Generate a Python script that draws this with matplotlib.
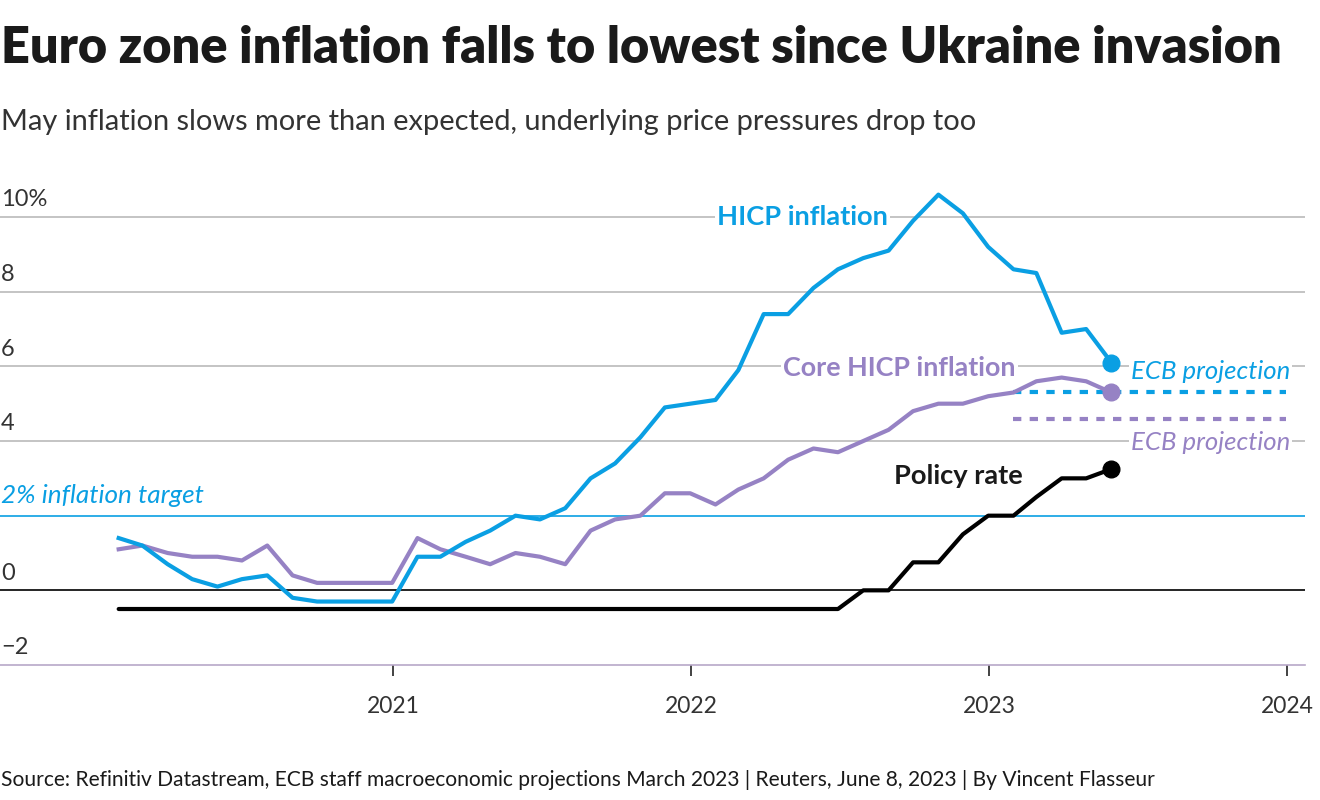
import numpy as np
import pandas as pd
import matplotlib
matplotlib.use("Agg")
import matplotlib.pyplot as plt
import matplotlib.dates as mdates
import matplotlib.transforms as mtransforms

plt.rcParams['font.family'] = ['Lato', 'DejaVu Sans']

# monthly data, Jan 2020 - May 2023 (plotted at month end)
months = pd.date_range('2020-01-31', periods=41, freq='ME')
hicp = [1.4, 1.2, 0.7, 0.3, 0.1, 0.3, 0.4, -0.2, -0.3, -0.3, -0.3, -0.3,
        0.9, 0.9, 1.3, 1.6, 2.0, 1.9, 2.2, 3.0, 3.4, 4.1, 4.9, 5.0,
        5.1, 5.9, 7.4, 7.4, 8.1, 8.6, 8.9, 9.1, 9.9, 10.6, 10.1, 9.2,
        8.6, 8.5, 6.9, 7.0, 6.1]
core = [1.1, 1.2, 1.0, 0.9, 0.9, 0.8, 1.2, 0.4, 0.2, 0.2, 0.2, 0.2,
        1.4, 1.1, 0.9, 0.7, 1.0, 0.9, 0.7, 1.6, 1.9, 2.0, 2.6, 2.6,
        2.3, 2.7, 3.0, 3.5, 3.8, 3.7, 4.0, 4.3, 4.8, 5.0, 5.0, 5.2,
        5.3, 5.6, 5.7, 5.6, 5.3]
policy = [-0.5] * 30 + [0.0, 0.0, 0.75, 0.75, 1.5, 2.0, 2.0, 2.5, 3.0, 3.0, 3.25]

# ECB March 2023 projections for 2023
proj_start = pd.Timestamp('2023-01-31')
proj_end = pd.Timestamp('2023-12-31')
hicp_proj = 5.3
core_proj = 4.6
target = 2.0

yticks = [-2, 0, 2, 4, 6, 8, 10]
ytick_labels = ['\u22122', '0', '', '4', '6', '8', '10%']
xticks = pd.to_datetime(['2021-01-01', '2022-01-01', '2023-01-01', '2024-01-01'])
xtick_labels = ['2021', '2022', '2023', '2024']

blue = '#0a9fe3'
purple = '#9682c4'
grid_c = '#b4b4b4'

fig = plt.figure(figsize=(13.2, 8), dpi=100)
ax = fig.add_axes([0, (800 - 665) / 800, 1305 / 1320, (665 - 172) / 800])

x0 = mdates.date2num(pd.Timestamp('2021-01-01'))
x3 = mdates.date2num(pd.Timestamp('2024-01-01'))
ppd = (1287 - 393) / (x3 - x0)
ax.set_xlim(x0 - 393 / ppd, x3 + 18 / ppd)
ax.set_ylim(-2, -2 + (665 - 172) / 37.33)

for s in ['top', 'right', 'left']:
    ax.spines[s].set_visible(False)
ax.spines['bottom'].set_color('#b8a8c8')
ax.spines['bottom'].set_linewidth(1.2)

# gridlines
for v in [4, 6, 8, 10]:
    ax.axhline(v, color=grid_c, lw=1.1, zorder=1)
ax.axhline(0, color='black', lw=1.2, zorder=1)
ax.axhline(target, color=blue, lw=1.2, zorder=1)

# y labels sit above gridlines at the left edge
trans = mtransforms.blended_transform_factory(fig.transFigure, ax.transData)
for v, lab in zip(yticks, ytick_labels):
    if lab:
        ax.text(1 / 1320, v + 0.18, lab, transform=trans, fontsize=17,
                color='#333333', va='bottom', ha='left')
ax.set_yticks([])

ax.set_xticks(mdates.date2num(xticks))
ax.set_xticklabels(xtick_labels, fontsize=16.5, color='#333333')
ax.tick_params(axis='x', direction='out', length=8, width=1.2, color='#222222', pad=14)

# series
ax.plot(months, policy, color='black', lw=3, zorder=4, solid_capstyle='round')
ax.plot(months, core, color=purple, lw=3, zorder=5)
ax.plot(months, hicp, color=blue, lw=3, zorder=6)
ax.plot(months[-1], policy[-1], 'o', color='black', ms=12, zorder=7)
ax.plot(months[-1], core[-1], 'o', color=purple, ms=12, zorder=7)
ax.plot(months[-1], hicp[-1], 'o', color=blue, ms=12, zorder=7)

ax.plot([proj_start, proj_end], [hicp_proj, hicp_proj], color=blue, lw=3,
        ls=(0, (2, 2)), zorder=3)
ax.plot([proj_start, proj_end], [core_proj, core_proj], color=purple, lw=3,
        ls=(0, (2, 2)), zorder=3)

box = dict(facecolor='white', edgecolor='none', pad=1.5)
ax.text(pd.Timestamp('2022-05-18'), 10.0, 'HICP inflation', color=blue, fontsize=19.6,
        fontweight='bold', ha='center', va='center', bbox=box, zorder=8)
ax.text(pd.Timestamp('2022-09-13'), 5.95, 'Core HICP inflation', color=purple, fontsize=19.4,
        fontweight='bold', ha='center', va='center', bbox=box, zorder=8)
ax.text(pd.Timestamp('2022-11-25'), 3.05, 'Policy rate', color='#1a1a1a', fontsize=19.6,
        fontweight='bold', ha='center', va='center', zorder=8)
ax.text(pd.Timestamp('2024-01-05'), 5.85, 'ECB projection', color=blue, fontsize=18.5,
        style='italic', ha='right', va='center', bbox=box, zorder=8)
ax.text(pd.Timestamp('2024-01-05'), 3.95, 'ECB projection', color=purple, fontsize=18.5,
        style='italic', ha='right', va='center', bbox=box, zorder=8)
ax.text(1 / 1320, 2.55, '2% inflation target', transform=trans, color=blue, fontsize=18.8,
        style='italic', ha='left', va='center')

fig.text(1 / 1320, 1 - 48 / 800, 'Euro zone inflation falls to lowest since Ukraine invasion',
         fontsize=36.4, fontweight='heavy', color='#1a1a1a', va='center', ha='left')
fig.text(1 / 1320, 1 - 122 / 800, 'May inflation slows more than expected, underlying price pressures drop too',
         fontsize=20.9, color='#333333', va='center', ha='left')
fig.text(1 / 1320, 1 - 780 / 800,
         'Source: Refinitiv Datastream, ECB staff macroeconomic projections March 2023 | Reuters, June 8, 2023 | By Vincent Flasseur',
         fontsize=15.1, color='#1a1a1a', va='center', ha='left')

fig.savefig('out.png', dpi=100, facecolor='white')
